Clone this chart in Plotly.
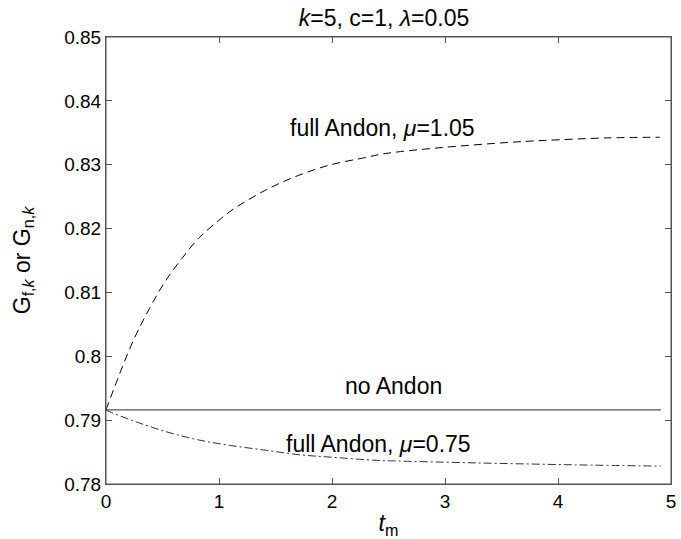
import plotly.graph_objects as go

# ---- data ----
t_mu105 = [0.0, 0.1, 0.24, 0.385, 0.53, 0.68, 0.82, 1.0, 1.115, 1.41, 1.70, 1.99, 2.29, 2.42, 2.58, 2.98, 3.57, 3.88, 4.44, 4.9]
g_mu105 = [0.7916, 0.7963, 0.8024, 0.8075, 0.8119, 0.8155, 0.8185, 0.8213, 0.8229, 0.8260, 0.8283, 0.8300, 0.8311, 0.8316, 0.8320, 0.8327, 0.8335, 0.8338, 0.8342, 0.8343]

t_mu075 = [0.0, 0.035, 0.24, 0.53, 0.82, 1.115, 1.41, 1.70, 1.99, 2.40, 2.58, 3.28, 4.15, 4.91]
g_mu075 = [0.7916, 0.7913, 0.7899, 0.7882, 0.7869, 0.7860, 0.7853, 0.7846, 0.7842, 0.7837, 0.7836, 0.7833, 0.7830, 0.7828]

t_none = [0.0, 4.91]
g_none = [0.7916, 0.7916]

x_ticks = [0, 1, 2, 3, 4, 5]
y_ticks = [0.78, 0.79, 0.80, 0.81, 0.82, 0.83, 0.84, 0.85]
y_ticklabels = ["0.78", "0.79", "0.8", "0.81", "0.82", "0.83", "0.84", "0.85"]

labels = ["full Andon, <i>μ</i>=1.05", "no Andon", "full Andon, <i>μ</i>=0.75"]
label_t = [2.45, 2.54, 2.41]
label_g = [0.8357, 0.79537, 0.78629]

FONT = "Liberation Sans, Arial, sans-serif"
FRAME = "#555555"

fig = go.Figure()
fig.add_trace(go.Scatter(x=t_mu105, y=g_mu105, mode="lines", line_shape="spline",
                         line=dict(color="black", width=1, dash="8px,5px"), showlegend=False))
fig.add_trace(go.Scatter(x=t_none, y=g_none, mode="lines",
                         line=dict(color="#555555", width=1.2), showlegend=False))
fig.add_trace(go.Scatter(x=t_mu075, y=g_mu075, mode="lines", line_shape="spline",
                         line=dict(color="#333333", width=1, dash="8px,3px,2px,3px"), showlegend=False))

for txt, tx, ty in zip(labels, label_t, label_g):
    fig.add_annotation(x=tx, y=ty, text=txt, showarrow=False,
                       font=dict(family=FONT, size=23, color="black"),
                       xanchor="center", yanchor="middle")

# plot frame
fig.add_shape(type="rect", xref="paper", yref="paper", x0=0, y0=0, x1=1, y1=1,
              line=dict(color=FRAME, width=1), layer="above")

axis_common = dict(showline=True, linecolor=FRAME, linewidth=1, mirror="ticks",
                   ticks="inside", ticklen=6, tickcolor=FRAME, tickwidth=1,
                   showgrid=False, zeroline=False,
                   tickfont=dict(family=FONT, size=19, color="black"))

fig.update_layout(
    width=681, height=539,
    margin=dict(l=106, r=5, t=37, b=52),
    paper_bgcolor="white", plot_bgcolor="white",
    title=dict(text="<i>k</i>=5, c=1, <i>λ</i>=0.05", x=384 / 681, xanchor="center",
               y=1 - 18 / 539, yanchor="middle", xref="container", yref="container",
               font=dict(family=FONT, size=23, color="black")),
    xaxis=dict(range=[0, 5], tickvals=x_ticks,
               title=dict(text="<i>t</i><sub>m</sub>", font=dict(family=FONT, size=23, color="black"), standoff=6),
               **axis_common),
    yaxis=dict(range=[0.78, 0.85], tickvals=y_ticks, ticktext=y_ticklabels,
               title=dict(text="G<sub>f,<i>k</i></sub> or G<sub>n,<i>k</i></sub>",
                          font=dict(family=FONT, size=23, color="black"), standoff=27),
               **axis_common),
)

fig.write_html("out.html", config={"displayModeBar": False},
               post_script="document.body.style.margin='0';document.body.style.overflow='hidden';")
